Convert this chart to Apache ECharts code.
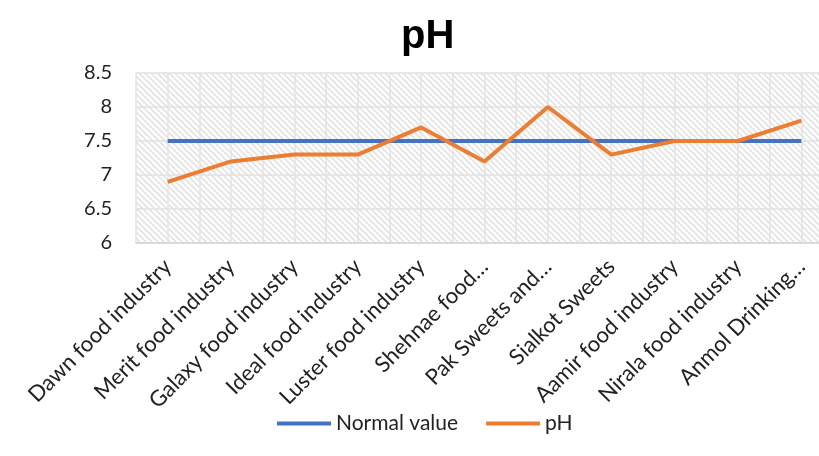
<!DOCTYPE html>
<html>
<head>
<meta charset="utf-8">
<style>
    html, body { margin: 0; padding: 0; background: #fff; overflow: hidden; }
    #main { width: 840px; height: 456px; }
</style>
</head>
<body>
<div id="main"></div>
<script src="https://cdn.jsdelivr.net/npm/echarts@6/dist/echarts.min.js"></script>
<script>
    // data
    var categories = ['Dawn food industry', 'Merit food industry', 'Galaxy food industry', 'Ideal food industry',
        'Luster food industry', 'Shehnae food\u2026', 'Pak Sweets and\u2026', 'Sialkot Sweets',
        'Aamir food industry', 'Nirala food industry', 'Anmol Drinking\u2026'];
    var normalValue = [7.5, 7.5, 7.5, 7.5, 7.5, 7.5, 7.5, 7.5, 7.5, 7.5, 7.5];
    var phValue = [6.9, 7.2, 7.3, 7.3, 7.7, 7.2, 8.0, 7.3, 7.5, 7.5, 7.8];
    // half-category slots, only used for the extra vertical grid lines
    var halfSlots = [];
    for (var i = 0; i < categories.length * 2; i++) halfSlots.push('' + i);

    // diagonal hatch for the plot background
    var tile = document.createElement('canvas');
    tile.width = 6; tile.height = 6;
    var c = tile.getContext('2d');
    c.strokeStyle = '#e3e3e3';
    c.lineWidth = 1.6;
    c.beginPath();
    c.moveTo(-1, -1); c.lineTo(7, 7);
    c.moveTo(-7, -1); c.lineTo(1, 7);
    c.moveTo(5, -1); c.lineTo(13, 7);
    c.stroke();

    var font = 'Lato, "Open Sans", sans-serif';
    var chart = echarts.init(document.getElementById('main'));
    chart.setOption({
        animation: false,
        backgroundColor: '#fff',
        title: {
            text: 'pH',
            left: 396,
            top: 12,
            textStyle: { fontFamily: 'Liberation Sans, Arial, sans-serif', fontSize: 40, fontWeight: 'bold', color: '#000' }
        },
        legend: {
            data: ['Normal value', 'pH'],
            left: 272,
            top: 408,
            itemWidth: 54,
            itemHeight: 4,
            itemGap: 28,
            icon: 'rect',
            textStyle: { fontFamily: font, fontSize: 21, color: '#222' }
        },
        grid: {
            left: 136, top: 73, width: 697, height: 170,
            show: true,
            borderWidth: 0,
            backgroundColor: { image: tile, repeat: 'repeat' }
        },
        xAxis: [{
            type: 'category',
            data: categories,
            boundaryGap: true,
            axisLine: { show: true, lineStyle: { color: '#d9d9d9', width: 2 } },
            axisTick: { show: false },
            splitLine: { show: false },
            axisLabel: { rotate: 45, interval: 0, fontFamily: font, fontSize: 22, color: '#222', margin: 20 }
        }, {
            type: 'category',
            data: halfSlots,
            position: 'bottom',
            boundaryGap: true,
            axisLine: { show: false },
            axisTick: { show: false },
            axisLabel: { show: false },
            splitLine: { show: true, interval: 0, lineStyle: { color: '#e3e3e3', width: 1.5 } }
        }],
        yAxis: {
            type: 'value',
            min: 6,
            max: 8.5,
            interval: 0.5,
            axisLine: { show: false },
            axisTick: { show: false },
            splitLine: { lineStyle: { color: '#e0e0e0', width: 1.5 } },
            axisLabel: { fontFamily: font, fontSize: 20, color: '#222', margin: 24 }
        },
        series: [{
            name: 'Normal value',
            type: 'line',
            data: normalValue,
            symbol: 'none',
            color: '#4472C4',
            lineStyle: { width: 4, color: '#4472C4' }
        }, {
            name: 'pH',
            type: 'line',
            data: phValue,
            symbol: 'none',
            color: '#ED7D31',
            lineStyle: { width: 4, color: '#ED7D31' }
        }]
    });
</script>
</body>
</html>
